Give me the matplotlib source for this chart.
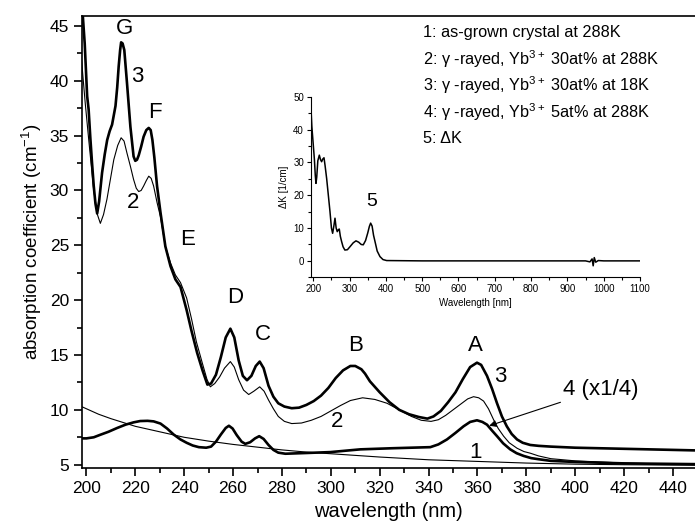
import numpy as np
import matplotlib
matplotlib.use("Agg")
import matplotlib.pyplot as plt
from matplotlib.ticker import MultipleLocator

plt.rcParams['font.family'] = ['Liberation Sans', 'DejaVu Sans']
plt.rcParams['mathtext.fontset'] = 'custom'
plt.rcParams['mathtext.rm'] = 'Liberation Sans'
plt.rcParams['mathtext.it'] = 'Liberation Sans'

# curve 3: gamma-rayed, Yb 30at% at 18K
wl3 = [197.8, 198.5, 199.3, 200.3, 200.9, 201.6, 202.3, 203.0, 203.7, 204.4, 205.2, 206.4,
       207.5, 208.5, 209.5, 210.5, 211.9, 212.6, 213.2, 213.8, 214.2, 214.8, 215.5, 216.6,
       218.0, 219.3, 220.0, 220.7, 221.4, 222.4, 223.4, 224.5, 225.5, 226.3, 227.0, 227.8,
       228.9, 230.3, 232.3, 234.4, 236.4, 238.5, 241.0, 243.0, 245.3, 247.5, 249.5, 251.0,
       253.0, 255.0, 257.0, 258.9, 260.5, 262.3, 264.0, 265.7, 267.5, 269.3, 270.9, 272.5,
       274.5, 276.5, 278.5, 281.0, 284.0, 287.0, 290.0, 293.0, 296.0, 299.0, 302.0, 305.0,
       308.0, 310.0, 312.5, 314.0, 316.0, 320.0, 324.0, 328.0, 332.0, 336.0, 339.5, 342.0,
       345.0, 348.0, 351.0, 354.0, 357.0, 359.8, 361.5, 363.9, 366.0, 368.0, 370.0, 372.0,
       374.0, 376.2, 378.5, 381.6, 385.0, 390.0, 400.0, 420.0, 440.0, 450.0]
k3 = [50.0, 46.0, 43.4, 38.6, 37.4, 34.8, 32.5, 30.4, 28.8, 27.9, 29.0, 31.6,
      33.3, 34.6, 35.4, 36.0, 37.7, 39.4, 41.3, 42.8, 43.5, 43.4, 42.8, 39.8,
      35.8, 33.1, 32.7, 32.8, 33.2, 34.0, 34.9, 35.5, 35.7, 35.5, 34.6, 33.0,
      30.4, 28.0, 24.9, 23.1, 21.9, 21.2, 19.1, 17.2, 15.2, 13.6, 12.3, 12.4,
      13.2, 14.8, 16.6, 17.4, 16.6, 14.5, 13.1, 12.7, 13.1, 14.0, 14.4, 13.8,
      12.2, 11.2, 10.6, 10.3, 10.15, 10.2, 10.45, 10.8, 11.3, 12.0, 12.9, 13.6,
      14.0, 14.0, 13.7, 13.3, 12.6, 11.6, 10.7, 10.0, 9.6, 9.35, 9.2, 9.4,
      9.9, 10.7, 11.6, 12.8, 13.9, 14.3, 14.1, 13.1, 11.9, 10.6, 9.4, 8.5,
      7.8, 7.3, 7.0, 6.8, 6.72, 6.65, 6.55, 6.45, 6.35, 6.3]

# curve 2: gamma-rayed, Yb 30at% at 288K
wl2 = [198.0, 199.5, 201.0, 203.0, 204.5, 205.7, 207.0, 208.4, 209.8, 211.2, 212.8, 214.2,
       215.4, 216.6, 218.0, 219.3, 220.4, 221.4, 222.4, 223.4, 224.5, 225.5, 226.5, 227.5,
       228.9, 230.3, 232.3, 234.4, 236.4, 238.5, 241.0, 243.0, 245.0, 247.5, 249.3, 250.7,
       252.5, 254.5, 256.5, 258.9, 260.5, 262.3, 264.3, 266.4, 268.5, 270.9, 272.7, 274.5,
       276.5, 278.5, 281.0, 284.0, 288.0, 292.0, 296.0, 300.0, 304.0, 308.0, 313.0, 318.0,
       323.0, 328.0, 333.0, 337.0, 341.0, 344.0, 347.0, 350.0, 353.0, 356.0, 358.4, 360.5,
       362.5, 364.5, 366.6, 368.5, 370.7, 373.0, 376.2, 379.0, 381.6, 385.0, 390.0, 400.0,
       420.0, 450.0]
k2 = [41.9, 38.0, 34.5, 30.0, 27.8, 27.0, 27.8, 29.2, 31.0, 32.8, 34.1, 34.8,
      34.5, 33.4, 32.2, 31.0, 30.2, 29.9, 30.0, 30.4, 30.9, 31.3, 31.1, 30.4,
      28.9, 27.6, 24.9, 23.4, 22.3, 21.6, 20.2, 18.3, 16.2, 14.2, 12.8, 12.1,
      12.4, 13.0, 13.8, 14.4, 13.9, 12.75, 11.8, 11.4, 11.7, 12.1, 11.7, 10.9,
      10.1, 9.4, 8.95, 8.75, 8.8, 9.05, 9.4, 9.9, 10.4, 10.85, 11.1, 10.95,
      10.6, 10.0, 9.4, 9.05, 8.95, 9.1, 9.5, 10.0, 10.5, 11.0, 11.2, 11.1,
      10.8, 10.1, 9.1, 8.3, 7.6, 7.0, 6.5, 6.2, 6.05, 5.8, 5.55, 5.35,
      5.15, 5.0]

# curve 4: gamma-rayed, Yb 5at% at 288K, scaled x1/4
wl4 = [198.0, 200.0, 203.0, 205.7, 209.0, 212.6, 216.0, 219.3, 222.0, 225.0, 227.5, 230.3,
       233.0, 235.7, 238.5, 241.0, 243.5, 246.0, 249.0, 251.0, 253.0, 255.0, 257.0, 258.3,
       259.8, 261.5, 263.5, 265.0, 267.0, 269.0, 270.7, 272.5, 274.5, 276.5, 278.5, 281.4,
       290.3, 299.8, 312.1, 325.0, 340.7, 344.0, 347.5, 351.0, 354.3, 357.0, 359.8, 362.0,
       363.9, 366.0, 368.0, 370.5, 373.4, 376.0, 378.9, 382.0, 385.0, 390.0, 400.0, 420.0,
       450.0]
k4 = [7.4, 7.4, 7.5, 7.73, 8.0, 8.35, 8.65, 8.86, 8.98, 9.0, 8.95, 8.75,
      8.3, 7.75, 7.3, 7.0, 6.75, 6.6, 6.55, 6.65, 7.1, 7.75, 8.35, 8.55,
      8.3, 7.7, 7.1, 6.9, 7.05, 7.4, 7.6, 7.35, 6.8, 6.35, 6.1, 6.0,
      6.07, 6.15, 6.4, 6.5, 6.6, 6.85, 7.3, 7.9, 8.5, 8.9, 9.05, 8.9,
      8.65, 8.1, 7.6, 6.95, 6.4, 6.05, 5.8, 5.6, 5.5, 5.35, 5.25, 5.12,
      5.05]

# curve 1: as-grown crystal at 288K
wl1 = [198.0, 200.0, 205.0, 210.0, 215.0, 220.0, 225.0, 230.0, 240.0, 250.0, 260.0, 270.0,
       280.0, 290.0, 300.0, 320.0, 340.0, 360.0, 380.0, 400.0, 420.0, 450.0]
k1 = [10.3, 10.1, 9.6, 9.2, 8.85, 8.5, 8.25, 8.0, 7.5, 7.15, 6.85, 6.6,
      6.35, 6.15, 6.0, 5.7, 5.45, 5.3, 5.15, 5.05, 5.0, 4.95]

# inset: difference spectrum Delta K
wl5 = [193.7, 196.0, 200.0, 203.0, 205.5, 207.4, 209.5, 212.5, 216.6, 220.0, 223.0, 226.0,
       229.5, 232.5, 236.8, 241.0, 246.0, 250.0, 253.3, 256.5, 259.8, 263.0, 266.0, 269.0,
       271.6, 274.5, 278.0, 282.0, 287.0, 294.0, 301.0, 310.0, 317.6, 325.0, 332.0, 337.7,
       344.0, 350.0, 354.5, 358.0, 362.0, 366.0, 370.0, 376.0, 383.7, 392.0, 402.0, 500.0,
       600.0, 700.0, 800.0, 900.0, 950.0, 962.0, 968.0, 971.0, 974.0, 978.0, 985.0, 1000.0,
       1050.0, 1100.0]
k5 = [46.4, 41.0, 35.3, 31.0, 26.0, 23.6, 25.5, 30.5, 32.2, 30.8, 30.2, 31.0,
      31.4, 29.0, 25.1, 20.5, 15.0, 10.0, 8.4, 10.5, 13.0, 10.0, 8.9, 9.5,
      9.7, 7.5, 5.9, 4.3, 3.3, 3.4, 4.3, 5.5, 6.1, 5.7, 5.0, 4.9,
      6.2, 8.5, 10.5, 11.5, 10.6, 7.8, 5.9, 3.0, 1.3, 0.4, 0.1, 0.0,
      0.0, 0.0, 0.0, 0.0, 0.0, -0.3, 0.6, -1.5, 1.0, -0.4, 0.1, 0.0,
      0.0, 0.0]

legend_lines = [
    "1: as-grown crystal at 288K",
    "2: \u03b3 -rayed, Yb$^{3+}$ 30at% at 288K",
    "3: \u03b3 -rayed, Yb$^{3+}$ 30at% at 18K",
    "4: \u03b3 -rayed, Yb$^{3+}$ 5at% at 288K",
    "5: \u0394K",
]

fig = plt.figure(figsize=(6.95, 5.32), dpi=100)
ax = fig.add_axes([0.1173, 0.1203, 0.8827, 0.8496])

thick, thin = 1.9, 0.8
ax.plot(wl1, k1, color='black', lw=thin)
ax.plot(wl2, k2, color='black', lw=thin)
ax.plot(wl4, k4, color='black', lw=thick)
ax.plot(wl3, k3, color='black', lw=thick)

ax.set_xlim(198, 449)
ax.set_ylim(4.7, 45.9)
ax.xaxis.set_major_locator(MultipleLocator(20))
ax.xaxis.set_minor_locator(MultipleLocator(10))
ax.yaxis.set_major_locator(MultipleLocator(5))
ax.yaxis.set_minor_locator(MultipleLocator(2.5))
ax.tick_params(which='major', direction='out', length=6, width=1.2, labelsize=12.5, pad=3)
ax.tick_params(which='minor', direction='out', length=3.5, width=1.2)
ax.spines['right'].set_visible(False)
for s in ('left', 'bottom', 'top'):
    ax.spines[s].set_linewidth(1.2)
ax.set_xlabel('wavelength (nm)', fontsize=14.5, labelpad=5)
ax.set_ylabel('absorption coefficient (cm$^{-1}$)', fontsize=13.5, labelpad=4)

# peak letters and curve numbers
fs = 16
for txt, x, y in [('G', 215.5, 44.8), ('3', 221.0, 40.4), ('F', 228.2, 37.1),
                  ('2', 219.2, 28.9), ('E', 241.3, 25.5), ('D', 260.9, 20.2),
                  ('C', 272.4, 16.9), ('B', 310.0, 15.9), ('A', 359.1, 15.9),
                  ('3', 369.5, 13.0), ('1', 359.1, 6.1), ('2', 302.7, 8.9)]:
    ax.text(x, y, txt, fontsize=fs, ha='center', va='center')
ax.annotate('4 (x1/4)', xy=(364.8, 8.55), xytext=(395.0, 11.9), fontsize=fs,
            ha='left', va='center',
            arrowprops=dict(arrowstyle='-|>', color='black', lw=0.8,
                            mutation_scale=10, shrinkA=0, shrinkB=0))

# legend as plain text lines
for i, line in enumerate(legend_lines):
    fig.text(423 / 695, 1 - (33 + 26.3 * i) / 532, line, fontsize=11.7,
             ha='left', va='center')

# inset with the difference spectrum
ins = fig.add_axes([311 / 695, 1 - 277.3 / 532, 329 / 695, 180.6 / 532])
ins.plot(wl5, k5, color='black', lw=1.1)
ins.set_xlim(193.7, 1100)
ins.set_ylim(-5, 50)
ins.xaxis.set_major_locator(MultipleLocator(100))
ins.xaxis.set_minor_locator(MultipleLocator(50))
ins.yaxis.set_major_locator(MultipleLocator(10))
ins.yaxis.set_minor_locator(MultipleLocator(5))
ins.tick_params(which='major', direction='out', length=3, width=0.8, labelsize=7, pad=2)
ins.tick_params(which='minor', direction='out', length=2, width=0.8)
ins.spines['top'].set_visible(False)
ins.spines['right'].set_visible(False)
ins.patch.set_alpha(0)
ins.set_xlabel('Wavelength [nm]', fontsize=7, labelpad=3)
ins.set_ylabel('\u0394K [1/cm]', fontsize=7, labelpad=3)
ins.text(361, 18, '5', fontsize=14, ha='center', va='center')

fig.savefig('out.png', dpi=100)
